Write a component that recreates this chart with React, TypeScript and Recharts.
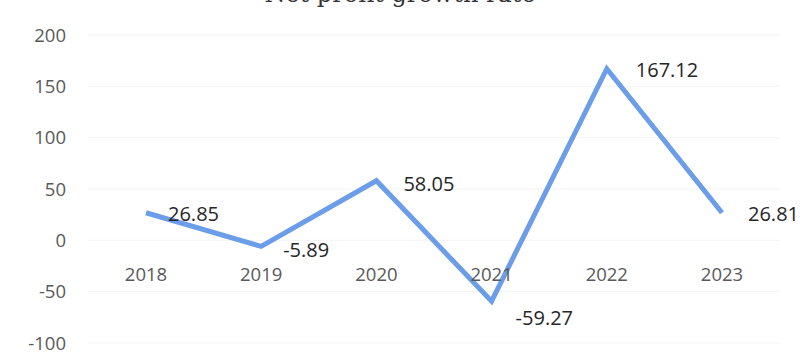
import { CartesianGrid, LabelList, Line, LineChart, XAxis, YAxis } from "recharts";

const years = ["2018", "2019", "2020", "2021", "2022", "2023"];
const growth = [26.85, -5.89, 58.05, -59.27, 167.12, 26.81];
const yTicks = [-100, -50, 0, 50, 100, 150, 200];
const title = "Net profit growth rate";

const data = years.map((year, i) => ({ year, growth: growth[i] }));

const FONT = "'Open Sans', 'Noto Sans', sans-serif";

// label nudges as placed in the original (dx, dy from the point)
const LABEL_NUDGE: [number, number][] = [
  [22, 8],
  [22, 11],
  [27, 10],
  [24, 24],
  [29, 8],
  [26, 8],
];

// x labels sit just under the zero line, not at the bottom of the plot
const YearTick = (props: any) => {
  const { x, y, payload } = props;
  return (
    <text x={x} y={y - 70} textAnchor="middle" fill="#595959" fontSize={18.5} fontFamily={FONT}>
      {payload.value}
    </text>
  );
};

const ValueLabel = (props: any) => {
  const { x, y, value, index } = props;
  const [dx, dy] = LABEL_NUDGE[index] ?? [24, 8];
  return (
    <text x={x + dx} y={y + dy} fill="#262626" fontSize={20} fontFamily={FONT}>
      {value}
    </text>
  );
};

export default function App() {
  return (
    <div style={{ position: "absolute", left: 0, top: 0, width: 800, height: 363, background: "#fff" }}>
      <LineChart width={800} height={363} data={data} margin={{ top: 35, right: 20, left: 0, bottom: 0 }}>
        <text x={400} y={2} textAnchor="middle" fontSize={24} fontFamily="'DejaVu Serif', serif" fill="#333">
          {title}
        </text>
        <CartesianGrid stroke="#f3f3f3" vertical={false} />
        <XAxis
          dataKey="year"
          axisLine={false}
          tickLine={false}
          height={20}
          interval={0}
          padding={{ left: 58, right: 58 }}
          tick={<YearTick />}
        />
        <YAxis
          domain={[-100, 200]}
          ticks={yTicks}
          axisLine={false}
          tickLine={false}
          tickSize={0}
          tickMargin={22}
          width={88}
          tick={{ fill: "#595959", fontSize: 18.5, fontFamily: FONT }}
        />
        <Line
          type="linear"
          dataKey="growth"
          stroke="#6b9de8"
          strokeWidth={5}
          dot={false}
          activeDot={false}
          isAnimationActive={false}
        >
          <LabelList dataKey="growth" content={<ValueLabel />} />
        </Line>
      </LineChart>
    </div>
  );
}
